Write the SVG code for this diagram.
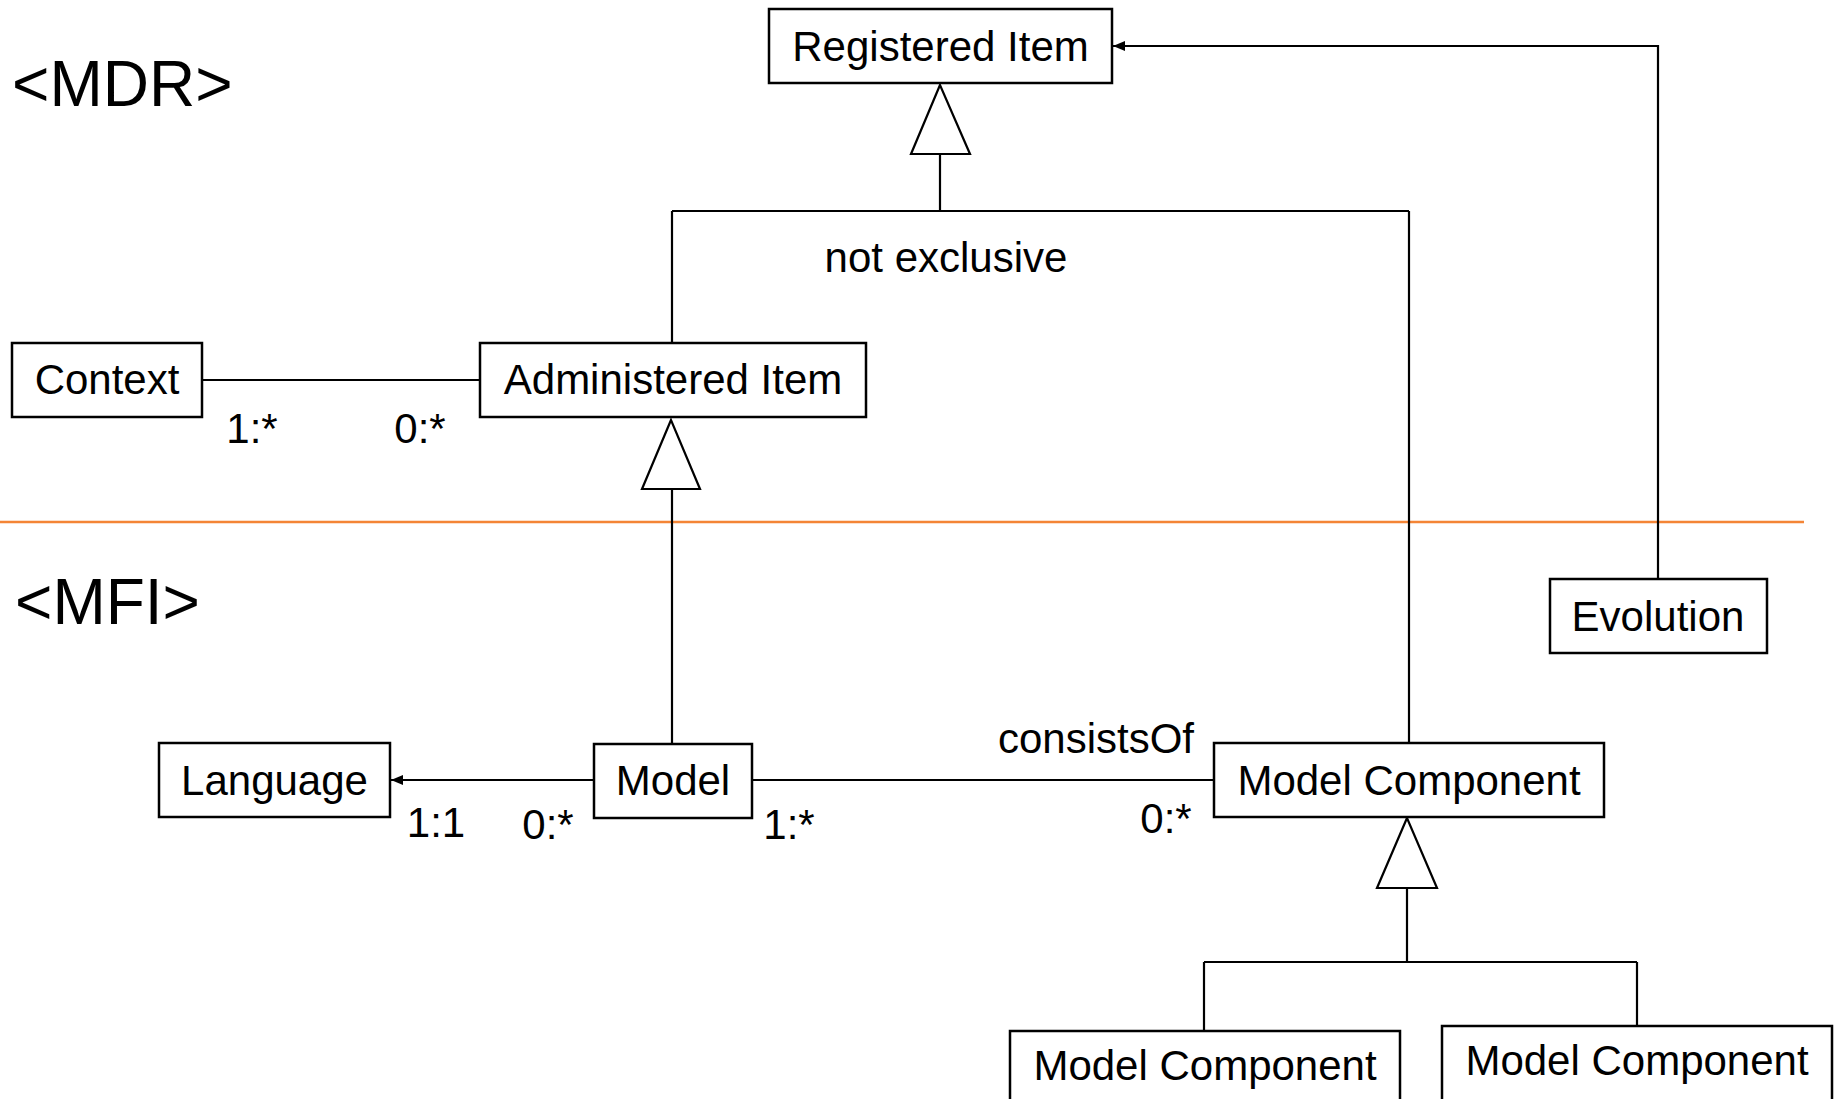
<svg xmlns="http://www.w3.org/2000/svg" width="1841" height="1099" viewBox="0 0 1841 1099">
<style>
.box{fill:#fff;stroke:#000;stroke-width:2.5}
.lbl{font-family:"Liberation Sans",Arial,sans-serif;font-size:42px;fill:#000}
.mid{text-anchor:middle}
.head{font-family:"Liberation Sans",Arial,sans-serif;font-size:64px;fill:#000}
.ln{fill:none;stroke:#000;stroke-width:2.2}
.gen{fill:#fff;stroke:#000;stroke-width:2.2}
</style>
<defs>
<marker id="arr" viewBox="0 0 12 10" refX="12" refY="5" markerWidth="12" markerHeight="10" markerUnits="userSpaceOnUse" orient="auto">
<path d="M0,0 L12,5 L0,10 z" fill="#000"/>
</marker>
</defs>
<rect width="1841" height="1099" fill="#fff"/>
<text class="head" x="12" y="106">&lt;MDR&gt;</text>
<text class="head" x="15" y="624">&lt;MFI&gt;</text>
<line x1="0" y1="522" x2="1804" y2="522" stroke="#F48536" stroke-width="2.6"/>
<g id="connectors">
<path class="ln" d="M940,154 V211 M672,211 H1409 M672,211 V343 M1409,211 V743"/>
<polygon class="gen" points="940,85 911,154 970,154"/>
<path class="ln" d="M1658,579 V46 H1113" marker-end="url(#arr)"/>
<line class="ln" x1="202" y1="380" x2="480" y2="380"/>
<path class="ln" d="M672,489 V744"/>
<polygon class="gen" points="671,420 642,489 700,489"/>
<path class="ln" d="M594,780 H391" marker-end="url(#arr)"/>
<line class="ln" x1="752" y1="780" x2="1214" y2="780"/>
<path class="ln" d="M1407,888 V962 M1204,962 H1637 M1204,962 V1031 M1637,962 V1026"/>
<polygon class="gen" points="1407,818 1377,888 1437,888"/>
</g>
<g id="labels">
<text class="lbl mid" x="946" y="272">not exclusive</text>
<text class="lbl mid" x="252" y="443">1:*</text>
<text class="lbl mid" x="420" y="443">0:*</text>
<text class="lbl mid" x="436" y="837">1:1</text>
<text class="lbl mid" x="548" y="839">0:*</text>
<text class="lbl mid" x="789" y="839">1:*</text>
<text class="lbl mid" x="1166" y="833">0:*</text>
<text class="lbl mid" x="1096" y="753">consistsOf</text>
</g>
<g id="registered-item"><rect class="box" x="769" y="9" width="343" height="74"/><text class="lbl mid" x="940.5" y="61">Registered Item</text></g>
<g id="context"><rect class="box" x="12" y="343" width="190" height="74"/><text class="lbl mid" x="107" y="394">Context</text></g>
<g id="administered-item"><rect class="box" x="480" y="343" width="386" height="74"/><text class="lbl mid" x="673" y="394">Administered Item</text></g>
<g id="evolution"><rect class="box" x="1550" y="579" width="217" height="74"/><text class="lbl mid" x="1658" y="631">Evolution</text></g>
<g id="language"><rect class="box" x="159" y="743" width="231" height="74"/><text class="lbl mid" x="274.5" y="795">Language</text></g>
<g id="model"><rect class="box" x="594" y="744" width="158" height="74"/><text class="lbl mid" x="673" y="795">Model</text></g>
<g id="model-component"><rect class="box" x="1214" y="743" width="390" height="74"/><text class="lbl mid" x="1409" y="795">Model Component</text></g>
<g id="model-component-sub1"><rect class="box" x="1010" y="1031" width="390" height="90"/><text class="lbl mid" x="1205" y="1080">Model Component</text></g>
<g id="model-component-sub2"><rect class="box" x="1442" y="1026" width="390" height="90"/><text class="lbl mid" x="1637" y="1075">Model Component</text></g>
</svg>
